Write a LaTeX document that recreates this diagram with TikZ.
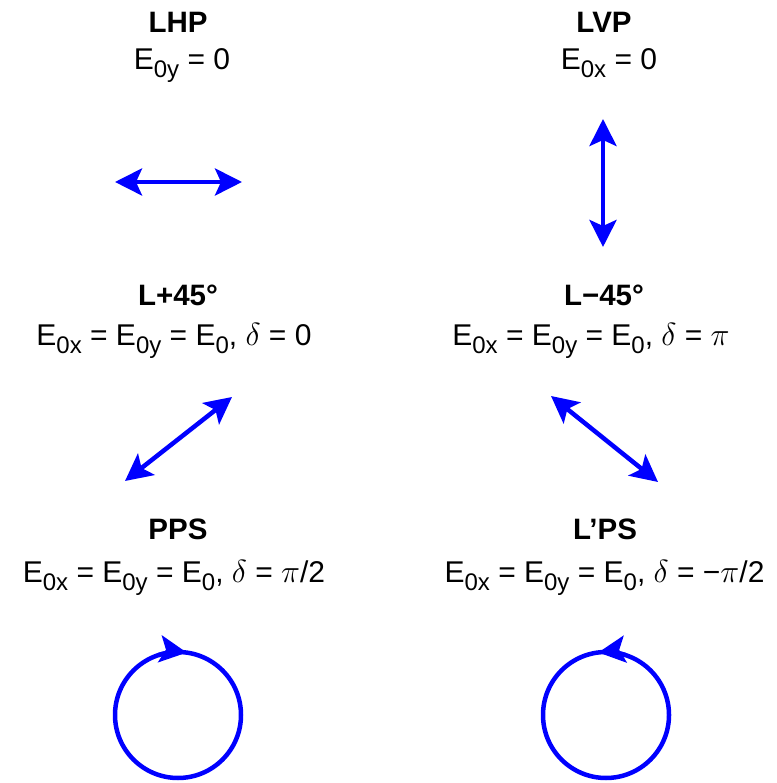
\documentclass[tikz,border=0pt]{standalone}
\usepackage{fix-cm}
\usepackage{fontspec}
\setmainfont{Liberation Sans}
\usepackage{tikz}
\usetikzlibrary{arrows.meta}
\definecolor{cPol}{RGB}{0,0,255}
\newcommand{\sbs}[1]{\raisebox{-8pt}{\fontsize{24}{24}\selectfont #1}}
\newcommand{\mth}[1]{{\fontsize{32}{32}\selectfont$#1$}}
\tikzset{
	ttl/.style   ={anchor=base, inner sep=0pt, font=\fontsize{29.5}{34}\selectfont\bfseries},
	eqn/.style   ={anchor=base, inner sep=0pt, font=\fontsize{30}{34}\selectfont},
	polvec/.style={{Stealth[length=27pt, width=27pt, inset=6pt]}-{Stealth[length=27pt, width=27pt, inset=6pt]}, draw=cPol, line width=4.5pt},
	polrot/.style={-{Stealth[length=27pt, width=27pt, inset=6pt]}, draw=cPol, line width=4.5pt},
	ring/.style  ={draw=cPol, line width=4.5pt},
}

\begin{document}
\begin{tikzpicture}[x=1pt, y=1pt]
	\useasboundingbox (0,0) rectangle (776,783);
	% linear horizontal / vertical
	\node[ttl] (lhp) at (178,750) {LHP};
	\node[eqn] (lhpEq) at (182,713) {E\sbs{0y} = 0};
	\node[ttl] (lvp) at (604,750) {LVP};
	\node[eqn] (lvpEq) at (609,713) {E\sbs{0x} = 0};
	\coordinate (hL) at (115,601); \coordinate (hR) at (242,601);
	\coordinate (vT) at (603,664); \coordinate (vB) at (603,536);
	\draw[polvec] (hL) -- (hR);
	\draw[polvec] (vT) -- (vB);
	% linear +/-45
	\node[ttl] (lp) at (178,477) {L+45°};
	\node[eqn] (lpEq) at (174,437) {E\sbs{0x} = E\sbs{0y} = E\sbs{0}, \mth{\delta} = 0};
	\node[ttl] (lm) at (604,477) {L−45°};
	\node[eqn] (lmEq) at (591,437) {E\sbs{0x} = E\sbs{0y} = E\sbs{0}, \mth{\delta} = \mth{\pi}};
	\coordinate (dA) at (125,302); \coordinate (dB) at (232,386);
	\coordinate (eA) at (551,387); \coordinate (eB) at (658,301);
	\draw[polvec] (dA) -- (dB);
	\draw[polvec] (eA) -- (eB);
	% circular
	\node[ttl] (pps) at (178,243) {PPS};
	\node[eqn] (ppsEq) at (174,200) {E\sbs{0x} = E\sbs{0y} = E\sbs{0}, \mth{\delta} = \mth{\pi}/2};
	\node[ttl] (lps) at (605,243) {L’PS};
	\node[eqn] (lpsEq) at (604.5,200) {E\sbs{0x} = E\sbs{0y} = E\sbs{0}, \mth{\delta} = −\mth{\pi}/2};
	\coordinate (cL) at (178,68); \coordinate (cR) at (606,68);
	\draw[ring] (cL) circle[radius=63pt];
	\draw[polrot] (cL) ++(108:63pt) arc[start angle=108, end angle=82, radius=63pt];
	\draw[ring] (cR) circle[radius=63pt];
	\draw[polrot] (cR) ++(72:63pt) arc[start angle=72, end angle=97, radius=63pt];
\end{tikzpicture}
\end{document}
